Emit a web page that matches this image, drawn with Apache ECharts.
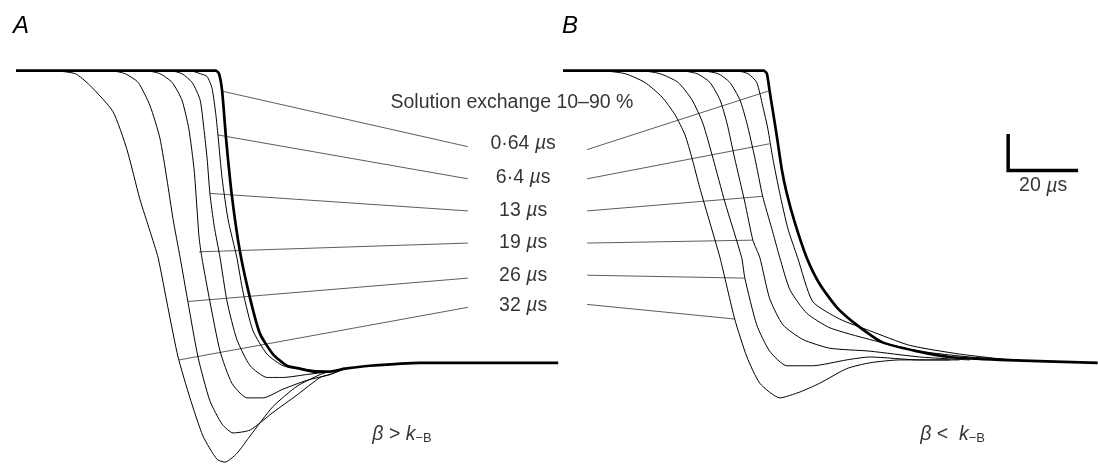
<!DOCTYPE html>
<html>
<head>
<meta charset="utf-8">
<script src="https://cdn.jsdelivr.net/npm/echarts@6/dist/echarts.min.js"></script>
<style>
html,body{margin:0;padding:0;background:#fff;}
#chart{width:1098px;height:468px;}
</style>
</head>
<body>
<div id="chart"></div>
<script>
// time in µs (from the left edge of each panel), current normalised to the steady-state level (inward = negative)
// Panel A  (beta > k-B)
const a064 = [[0,0],[57.1,0],[58,-0.01],[58.9,-0.07],[60,-0.23],[61.7,-0.43],[64,-0.62],[66.9,-0.78],[69.7,-0.9],[73.4,-0.97],[77.4,-1.01],[81.1,-1.02],[85.4,-1.03],[89.7,-1.03],[94,-1.02],[101.1,-1.01],[115.4,-1.0],[138.3,-1.0],[154.9,-1.0]];
const a64  = [[0,0],[49.7,0],[52.6,-0.01],[54.6,-0.02],[56,-0.06],[57.1,-0.15],[57.7,-0.22],[58.9,-0.37],[60.6,-0.51],[63.1,-0.64],[64.9,-0.76],[67.7,-0.89],[71.7,-0.97],[76.3,-1.01],[81.1,-1.02],[89.7,-1.03],[94,-1.02]];
const a13  = [[0,0],[44,0],[47.4,-0.01],[50.3,-0.04],[52.6,-0.1],[53.7,-0.2],[54.6,-0.3],[55.4,-0.42],[56.6,-0.53],[58.3,-0.64],[60.3,-0.79],[63.1,-0.92],[66.9,-1.01],[71.7,-1.05],[76.3,-1.05],[83.1,-1.04],[89.7,-1.03],[94,-1.02]];
const a19  = [[0,0],[36.9,0],[41.1,-0.01],[44.6,-0.04],[47.4,-0.1],[49.4,-0.2],[50.9,-0.34],[51.7,-0.47],[52.3,-0.57],[53.1,-0.64],[55.4,-0.79],[58.3,-0.96],[61.7,-1.07],[66,-1.12],[70.6,-1.12],[76.3,-1.09],[83.1,-1.06],[89.7,-1.04],[94,-1.02]];
const a26  = [[0,0],[26.9,0],[31.1,-0.01],[34.9,-0.04],[38.3,-0.12],[41.1,-0.23],[43.1,-0.37],[44.9,-0.51],[46.9,-0.64],[49.1,-0.79],[52,-0.98],[55.4,-1.13],[58.9,-1.21],[62,-1.24],[66.9,-1.23],[73.4,-1.17],[80.3,-1.11],[86.9,-1.05],[89.7,-1.04],[94,-1.02]];
const a32  = [[0,0],[9.7,0],[16.9,-0.01],[21.1,-0.05],[27.7,-0.14],[31.7,-0.27],[35.4,-0.44],[38.3,-0.55],[40.6,-0.64],[43.4,-0.81],[46.3,-0.98],[49.7,-1.12],[53.4,-1.25],[57.4,-1.33],[59.7,-1.34],[63.1,-1.31],[66.9,-1.25],[73.4,-1.15],[80.3,-1.08],[86.9,-1.04],[89.7,-1.03],[94,-1.02]];
// Panel B  (beta < k-B)
const b064 = [[0,0],[57.4,0],[58.3,-0.01],[59.1,-0.07],[61.1,-0.22],[62.6,-0.34],[64,-0.42],[66.3,-0.52],[69.7,-0.64],[73.4,-0.73],[78.3,-0.81],[84,-0.87],[91.4,-0.93],[101.1,-0.96],[110.6,-0.98],[124.9,-0.99],[152.9,-1.0]];
const b64  = [[0,0],[49.1,0],[52.9,-0.01],[55.4,-0.04],[57.1,-0.12],[58.6,-0.2],[60,-0.3],[62,-0.42],[64.3,-0.54],[67.1,-0.64],[71.4,-0.79],[79.1,-0.85],[87.7,-0.89],[99.1,-0.94],[113.4,-0.97],[127.7,-0.99]];
const b13  = [[0,0],[39.1,0],[44.3,-0.01],[47.7,-0.04],[50.6,-0.1],[52.6,-0.18],[54.9,-0.3],[57.1,-0.43],[59.7,-0.54],[62,-0.64],[64.9,-0.75],[69.7,-0.83],[76.3,-0.88],[87.7,-0.92],[102,-0.96],[116.3,-0.98],[130.6,-0.99]];
const b19  = [[0,0],[33.4,0],[38.3,-0.01],[42,-0.04],[44.9,-0.1],[46.9,-0.18],[49.1,-0.3],[52,-0.45],[54.3,-0.58],[56.3,-0.64],[59.1,-0.78],[62.9,-0.87],[68.6,-0.92],[76.3,-0.95],[87.7,-0.96],[102,-0.98],[116.3,-0.99]];
const b26  = [[0,0],[22,0],[27.7,-0.01],[32.9,-0.04],[36.9,-0.1],[40,-0.18],[42.9,-0.3],[46.3,-0.45],[51.1,-0.64],[52,-0.71],[55.4,-0.87],[59.1,-0.96],[64,-1.01],[71.4,-1.01],[81.1,-0.99],[87.7,-0.98],[102,-0.99],[113.4,-0.99]];
const b32  = [[0,0],[10.6,0],[17.7,-0.01],[23.4,-0.04],[28.3,-0.09],[32,-0.15],[34.9,-0.22],[36.9,-0.3],[39.1,-0.4],[42,-0.52],[44.9,-0.64],[49.1,-0.85],[52.6,-0.98],[56.3,-1.07],[62,-1.12],[67.7,-1.1],[73.4,-1.07],[81.1,-1.02],[87.7,-1.0],[96.3,-0.99],[110.6,-0.99]];

// exchange-time labels and the points of the traces they point to
const exchangeTimes = ['0·64', '6·4', '13', '19', '26', '32'];
const labelLevels = [-0.25, -0.366, -0.478, -0.59, -0.702, -0.803];
const labelTime = 144.9;            // label centre, panel-A time axis
const leaderEndA = 129.1;           // leader end near label, panel A
const leaderEndB = 6.9;             // leader end near label, panel B
const leaderLevelsA = [-0.26, -0.37, -0.48, -0.59, -0.71, -0.81];
const leaderLevelsB = [-0.27, -0.37, -0.48, -0.59, -0.70, -0.80];
const anchorsA = [[58.9,-0.07],[57.7,-0.22],[55.4,-0.42],[52.3,-0.62],[49.1,-0.79],[46.6,-0.99]];
const anchorsB = [[58.6,-0.07],[59.1,-0.25],[57.1,-0.43],[54.3,-0.58],[52,-0.71],[49.1,-0.85]];

// scale bar (panel B axes): 20 µs
const scaleBarStart = 127.3;
const scaleBarLength = 20;
const scaleBarTop = -0.217;
const scaleBarBottom = -0.342;

const FONT = '"Liberation Sans", Arial, Helvetica, sans-serif';
const INK = '#000';
const FS = 19.5;

const thinA = [a64, a13, a19, a26, a32];
const thinB = [b64, b13, b19, b26, b32];

const series = [];
function trace(data, idx, thick) {
  series.push({
    type: 'line', xAxisIndex: idx, yAxisIndex: idx, data: data,
    showSymbol: false, symbol: 'none', smooth: 0.2,
    lineStyle: { color: '#000', width: thick ? 2.7 : 1.0 },
    z: thick ? 5 : 3, silent: true
  });
}
thinA.forEach(d => trace(d, 0, false));
thinB.forEach(d => trace(d, 1, false));
trace(a064, 0, true);
trace(b064, 1, true);

// leader lines
anchorsA.forEach((p, i) => {
  series.push({ type: 'line', xAxisIndex: 0, yAxisIndex: 0, symbol: 'none', silent: true,
    data: [p, [leaderEndA, leaderLevelsA[i]]], lineStyle: { color: '#333', width: 0.8 }, z: 2 });
});
anchorsB.forEach((p, i) => {
  series.push({ type: 'line', xAxisIndex: 1, yAxisIndex: 1, symbol: 'none', silent: true,
    data: [[leaderEndB, leaderLevelsB[i]], p], lineStyle: { color: '#333', width: 0.8 }, z: 2 });
});

const italic = { fontStyle: 'italic', fontFamily: FONT, fontSize: FS, color: INK };
// exchange time labels
series.push({
  type: 'scatter', xAxisIndex: 0, yAxisIndex: 0, symbolSize: 0, silent: true,
  data: exchangeTimes.map((t, i) => ({ value: [labelTime, labelLevels[i]], name: t })),
  label: { show: true, position: 'inside', color: INK, fontFamily: FONT, fontSize: FS,
    formatter: p => p.name + ' {i|µ}s', rich: { i: italic } },
  z: 6
});
// header
series.push({
  type: 'scatter', xAxisIndex: 0, yAxisIndex: 0, symbolSize: 0, silent: true,
  data: [{ value: [141.7, -0.108], name: 'Solution exchange 10–90 %' }],
  label: { show: true, position: 'inside', color: INK, fontFamily: FONT, fontSize: FS, formatter: p => p.name },
  z: 6
});
// beta labels
const betaRich = {
  i: italic,
  s: { fontFamily: FONT, fontSize: 13, color: INK, padding: [8, 0, 0, 0] }
};
series.push({
  type: 'scatter', xAxisIndex: 0, yAxisIndex: 0, symbolSize: 0, silent: true,
  data: [{ value: [110.3, -1.245], name: '>' }],
  label: { show: true, position: 'inside', color: INK, fontFamily: FONT, fontSize: FS,
    formatter: p => '{i|β} ' + p.name + ' {i|k}{s|−B}', rich: betaRich },
  z: 6
});
series.push({
  type: 'scatter', xAxisIndex: 1, yAxisIndex: 1, symbolSize: 0, silent: true,
  data: [{ value: [111.4, -1.245], name: '<' }],
  label: { show: true, position: 'inside', color: INK, fontFamily: FONT, fontSize: FS,
    formatter: p => '{i|β} ' + p.name + '  {i|k}{s|−B}', rich: betaRich },
  z: 6
});
// scale bar
series.push({
  type: 'line', xAxisIndex: 1, yAxisIndex: 1, symbol: 'none', silent: true,
  data: [[scaleBarStart, scaleBarTop], [scaleBarStart, scaleBarBottom], [scaleBarStart + scaleBarLength, scaleBarBottom]],
  lineStyle: { color: '#000', width: 3.5, join: 'miter', cap: 'butt' }, z: 6
});
series.push({
  type: 'scatter', xAxisIndex: 1, yAxisIndex: 1, symbolSize: 0, silent: true,
  data: [{ value: [scaleBarStart + scaleBarLength / 2, -0.395], name: String(scaleBarLength) }],
  label: { show: true, position: 'inside', color: INK, fontFamily: FONT, fontSize: FS,
    formatter: p => p.name + ' {i|µ}s', rich: { i: italic } },
  z: 6
});

const chart = echarts.init(document.getElementById('chart'), null, { renderer: 'canvas' });
chart.setOption({
  animation: false,
  backgroundColor: '#fff',
  title: [
    { text: 'A', left: 8, top: 9, textStyle: { fontFamily: FONT, fontSize: 24, fontStyle: 'italic', fontWeight: 'normal', color: INK } },
    { text: 'B', left: 557, top: 9, textStyle: { fontFamily: FONT, fontSize: 24, fontStyle: 'italic', fontWeight: 'normal', color: INK } }
  ],
  grid: [
    { left: 16, top: 41.5, width: 542.5, height: 430.7 },
    { left: 563, top: 41.5, width: 535.5, height: 430.7 }
  ],
  xAxis: [
    { type: 'value', gridIndex: 0, min: 0, max: 155, show: false },
    { type: 'value', gridIndex: 1, min: 0, max: 153, show: false }
  ],
  yAxis: [
    { type: 'value', gridIndex: 0, min: -1.36, max: 0.1, show: false },
    { type: 'value', gridIndex: 1, min: -1.36, max: 0.1, show: false }
  ],
  series: series
});
</script>
</body>
</html>
